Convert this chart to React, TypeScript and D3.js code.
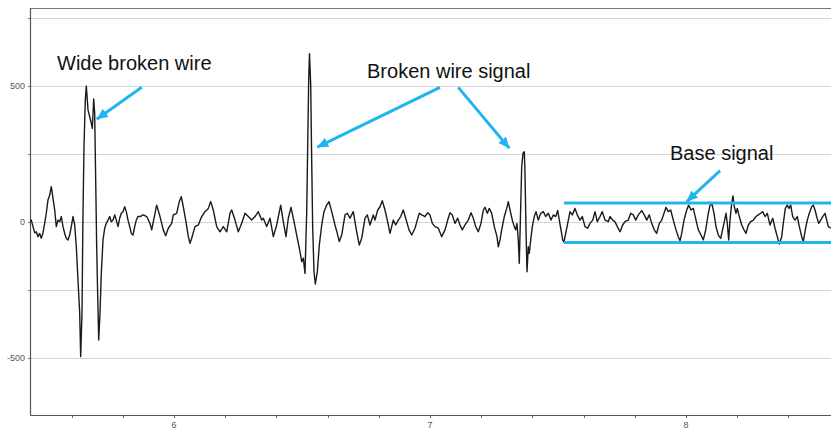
import React from "react";
import * as d3 from "d3";

// ---- data (time in s, amplitude) ----
const times: number[] = [
  5.4375, 5.4426, 5.4492, 5.4559, 5.4621, 5.4688, 5.4754, 5.4816, 5.4883, 5.4949,
  5.5012, 5.5078, 5.5145, 5.5207, 5.5273, 5.534, 5.5402, 5.5469, 5.5535, 5.5598,
  5.5664, 5.573, 5.5793, 5.5859, 5.5926, 5.5988, 5.6055, 5.6121, 5.6184, 5.625,
  5.6316, 5.6355, 5.6406, 5.6445, 5.6484, 5.6535, 5.6574, 5.6641, 5.6707, 5.677,
  5.6809, 5.6863, 5.6902, 5.6941, 5.698, 5.702, 5.7059, 5.7109, 5.716, 5.7227,
  5.7293, 5.7355, 5.7422, 5.7488, 5.7551, 5.7617, 5.7684, 5.7746, 5.7813, 5.7879,
  5.7941, 5.8008, 5.8074, 5.8137, 5.8203, 5.827, 5.8332, 5.8398, 5.8465, 5.8527,
  5.8594, 5.8672, 5.8801, 5.8934, 5.9063, 5.9129, 5.9258, 5.9324, 5.9453, 5.9582,
  5.9676, 5.9777, 5.991, 5.9973, 6.0105, 6.0207, 6.0285, 6.0363, 6.0457, 6.0559,
  6.0625, 6.0691, 6.082, 6.0949, 6.1082, 6.1211, 6.134, 6.1434, 6.1535, 6.1668,
  6.1797, 6.1926, 6.2059, 6.2188, 6.2254, 6.2383, 6.2512, 6.2645, 6.2773, 6.2902,
  6.3035, 6.3164, 6.3293, 6.3426, 6.3488, 6.3621, 6.375, 6.3879, 6.4012, 6.4168,
  6.427, 6.4375, 6.4465, 6.457, 6.466, 6.4793, 6.4922, 6.4988, 6.5051, 6.5117,
  6.5184, 6.5223, 6.5262, 6.5293, 6.534, 6.5379, 6.5418, 6.5469, 6.552, 6.5598,
  6.5676, 6.577, 6.5859, 6.5965, 6.6055, 6.616, 6.6289, 6.6379, 6.6457, 6.6551,
  6.668, 6.677, 6.6875, 6.7004, 6.7137, 6.7238, 6.7332, 6.7461, 6.7551, 6.7656,
  6.7785, 6.7852, 6.7957, 6.8047, 6.8137, 6.8242, 6.8332, 6.8438, 6.8566, 6.866,
  6.8762, 6.8855, 6.8957, 6.909, 6.918, 6.9285, 6.9414, 6.9504, 6.9582, 6.9676,
  6.9805, 6.991, 7.0, 7.009, 7.0195, 7.0324, 7.0457, 7.0586, 7.0691, 7.0781,
  7.0871, 7.0977, 7.1082, 7.1172, 7.1262, 7.1367, 7.1496, 7.1602, 7.1691, 7.1785,
  7.1887, 7.1992, 7.2082, 7.2148, 7.2238, 7.2316, 7.241, 7.2512, 7.2617, 7.2668,
  7.2734, 7.2801, 7.2902, 7.2996, 7.3059, 7.3125, 7.3215, 7.3293, 7.3348, 7.3398,
  7.3449, 7.3488, 7.3543, 7.3582, 7.3633, 7.3684, 7.3711, 7.375, 7.3789, 7.384,
  7.3879, 7.3934, 7.3996, 7.4074, 7.4141, 7.423, 7.4324, 7.4426, 7.452, 7.4621,
  7.4727, 7.4816, 7.491, 7.4988, 7.5051, 7.5117, 7.5184, 7.5234, 7.5301, 7.5379,
  7.5469, 7.5559, 7.5664, 7.5754, 7.5859, 7.5949, 7.6055, 7.616, 7.625, 7.6355,
  7.6445, 7.6535, 7.6641, 7.673, 7.6836, 7.6965, 7.7031, 7.7137, 7.7227, 7.7316,
  7.7422, 7.7527, 7.7617, 7.7746, 7.784, 7.7941, 7.8035, 7.8137, 7.827, 7.8371,
  7.8465, 7.8566, 7.866, 7.8762, 7.8855, 7.8957, 7.9051, 7.9141, 7.9219, 7.9309,
  7.9402, 7.9504, 7.9609, 7.9699, 7.9766, 7.9832, 7.9922, 8.0027, 8.0105, 8.0195,
  8.0285, 8.0391, 8.048, 8.0586, 8.0676, 8.077, 8.0871, 8.0938, 8.1016, 8.1094,
  8.1172, 8.1262, 8.1355, 8.1484, 8.1563, 8.1613, 8.1668, 8.1719, 8.1785, 8.1836,
  8.1887, 8.1953, 8.2004, 8.2082, 8.2176, 8.2266, 8.2344, 8.2434, 8.2527, 8.2629,
  8.2734, 8.2824, 8.2918, 8.2996, 8.3086, 8.3176, 8.3281, 8.3387, 8.3477, 8.3566,
  8.3645, 8.3738, 8.3801, 8.3879, 8.3957, 8.4023, 8.409, 8.4168, 8.4258, 8.4348,
  8.4426, 8.452, 8.4582, 8.466, 8.4738, 8.4816, 8.491, 8.4973, 8.5039, 8.5105,
  8.5184, 8.5262, 8.534, 8.543, 8.5496, 8.5559, 8.5652,
];

const amplitude: number[] = [
  1, 7, -17, -40, -36, -54, -42, -60, -40, -4,
  33, 81, 99, 130, 88, 44, -17, 7, 1, 20,
  -17, -42, -60, -66, -48, -17, 20, -11, -91, -213,
  -335, -495, -335, 33, 277, 448, 500, 412, 387, 363,
  344, 452, 400, 154, -91, -275, -434, -335, -189, -66,
  -23, -5, 7, 20, 1, 7, 26, 7, -17, 14,
  32, 38, 56, 38, 7, -17, -42, -48, -17, 7,
  20, 20, 26, 20, -5, -29, 32, 62, 20, -29,
  -51, -23, -5, 26, 32, 75, 93, 56, 7, -54,
  -78, -60, -17, -11, 20, 38, 50, 75, 44, -17,
  -36, -17, -36, 32, 44, 7, -36, -5, 32, 20,
  7, 20, 38, 7, 14, -17, 14, -54, -11, 62,
  1, -54, 14, 54, 14, -48, -109, -146, -133, -189,
  38, 283, 528, 619, 504, 222, -23, -183, -228, -183,
  -85, -11, 38, 62, 75, 38, -11, -42, -72, -48,
  26, 32, 14, 38, -36, -85, -60, 14, 26, -11,
  26, 7, 44, 56, 78, 44, 7, -42, 7, -11,
  7, 20, 44, 1, -29, -48, -23, 7, 32, 26,
  20, 34, 26, -5, -17, -23, -54, -29, 7, 34,
  26, -5, 14, -11, -29, -11, 7, 34, 14, -17,
  -36, -5, 44, 54, 32, 50, 32, -17, -54, -91,
  -66, -29, 20, 50, 75, 44, 7, -17, -29, -5,
  -66, -152, 56, 203, 253, 258, 179, -29, -183, -91,
  -115, -66, -17, 20, 38, 7, 32, 38, 20, 32,
  7, 26, 20, 42, 7, -29, -66, -74, -42, -5,
  38, 26, 50, 26, 7, 20, -17, -23, -5, 7,
  38, 1, 20, 38, 7, 1, 20, 7, 1, -17,
  -36, -11, 1, 7, 32, 26, 7, 26, 42, 26,
  7, 26, -5, -29, -42, -5, 7, 32, 54, 38,
  44, 7, -29, -54, -69, -42, 7, 44, 62, 44,
  50, 7, -29, -48, -66, -29, 32, 62, 66, 32,
  -17, -48, -60, -5, 32, -5, -66, 7, 69, 96,
  56, 32, 50, 20, -11, -29, -42, -11, 1, 7,
  20, 26, 32, 38, 20, 32, -11, 14, -23, -54,
  -81, -54, -5, 50, 62, 50, 62, 20, 7, 20,
  -17, -54, -72, -29, 7, 32, 56, 62, 44, 20,
  -5, 7, 20, 32, 7, -17, -23,
];

const yGridValues: number[] = [750, 500, 250, 0, -250, -500];
const yLabelValues: number[] = [500, 0, -500];
const xMajorTicks: number[] = [6, 7, 8];
const xMinorTicks: number[] = [5.6, 5.8, 6.2, 6.4, 6.6, 6.8, 7.2, 7.4, 7.6, 7.8, 8.2, 8.4];

// annotations (in data coordinates)
const labelTexts: string[] = ["Wide broken wire", "Broken wire signal", "Base signal"];
const labelT: number[] = [5.543, 6.754, 7.9375];
const labelV: number[] = [559, 529, 228];
const arrowFromT: number[] = [5.8738, 7.039, 7.1105, 8.133];
const arrowFromV: number[] = [495, 495, 495, 189];
const arrowToT: number[] = [5.698, 6.5598, 7.3098, 8.0027];
const arrowToV: number[] = [378, 275, 271, 75];
const bandStartT = 7.5234;
const bandValues: number[] = [70, -75];

const W = 831;
const H = 430;
const left = 30;
const top = 8;
const bottom = 415;
const right = 831;

export default function App() {
  const x = d3.scaleLinear().domain([5.4375, 8.5664]).range([left, right]);
  const y = d3.scaleLinear().domain([-709.6, 786.7]).range([bottom, top]);

  const pts: [number, number][] = times.map((t, i) => [t, amplitude[i]]);
  const line = d3
    .line<[number, number]>()
    .x((d) => x(d[0]))
    .y((d) => y(d[1]));

  const blue = "#21b5ee";
  const font = "'Liberation Sans', Arial, sans-serif";

  return (
    <div style={{ position: "absolute", left: 0, top: 0, width: W, height: H, background: "#fff" }}>
      <svg width={W} height={H} style={{ display: "block" }}>
        <defs>
          <clipPath id="plot">
            <rect x={left} y={top} width={right - left} height={bottom - top} />
          </clipPath>
          <marker
            id="ah"
            markerUnits="userSpaceOnUse"
            markerWidth={14}
            markerHeight={12}
            refX={11}
            refY={5}
            orient="auto"
          >
            <path d="M0,0 L11,5 L0,10 Z" fill={blue} />
          </marker>
        </defs>
        <rect x={0} y={0} width={W} height={H} fill="#fff" />
        {yGridValues.map((v) => (
          <line
            key={"g" + v}
            x1={left}
            x2={right}
            y1={Math.round(y(v)) + 0.5}
            y2={Math.round(y(v)) + 0.5}
            stroke="#d6d6d6"
            strokeWidth={1}
          />
        ))}
        <line x1={left} x2={right} y1={top + 0.5} y2={top + 0.5} stroke="#777" strokeWidth={1} />
        <line x1={left + 0.5} x2={left + 0.5} y1={top} y2={bottom} stroke="#555" strokeWidth={1.2} />
        <line x1={left} x2={right} y1={bottom + 0.5} y2={bottom + 0.5} stroke="#555" strokeWidth={1.2} />
        {yGridValues.map((v) => (
          <line
            key={"yt" + v}
            x1={left - 2}
            x2={left}
            y1={Math.round(y(v)) + 0.5}
            y2={Math.round(y(v)) + 0.5}
            stroke="#777"
          />
        ))}
        {yLabelValues.map((v) => (
          <text
            key={"yl" + v}
            x={left - 5}
            y={y(v)}
            dy="0.35em"
            textAnchor="end"
            fontSize={9}
            fontFamily={font}
            fill="#555"
          >
            {v}
          </text>
        ))}
        {[...xMajorTicks, ...xMinorTicks].map((t) => (
          <line
            key={"xt" + t}
            x1={Math.round(x(t)) + 0.5}
            x2={Math.round(x(t)) + 0.5}
            y1={bottom}
            y2={bottom + 3}
            stroke="#666"
          />
        ))}
        {xMajorTicks.map((t) => (
          <text
            key={"xl" + t}
            x={x(t)}
            y={428}
            textAnchor="middle"
            fontSize={9}
            fontFamily={font}
            fill="#555"
          >
            {t}
          </text>
        ))}
        <g clipPath="url(#plot)">
          <path d={line(pts) || ""} fill="none" stroke="#1a1a1a" strokeWidth={1.4} strokeLinejoin="round" />
        </g>
        {bandValues.map((v) => (
          <line
            key={"b" + v}
            x1={x(bandStartT)}
            x2={right}
            y1={y(v)}
            y2={y(v)}
            stroke={blue}
            strokeWidth={3}
          />
        ))}
        {arrowFromT.map((t, i) => (
          <line
            key={"a" + i}
            x1={x(t)}
            y1={y(arrowFromV[i])}
            x2={x(arrowToT[i])}
            y2={y(arrowToV[i])}
            stroke={blue}
            strokeWidth={3}
            markerEnd="url(#ah)"
          />
        ))}
        {labelTexts.map((s, i) => (
          <text key={"l" + i} x={x(labelT[i])} y={y(labelV[i])} fontSize={20} fontFamily={font} fill="#111">
            {s}
          </text>
        ))}
      </svg>
    </div>
  );
}
